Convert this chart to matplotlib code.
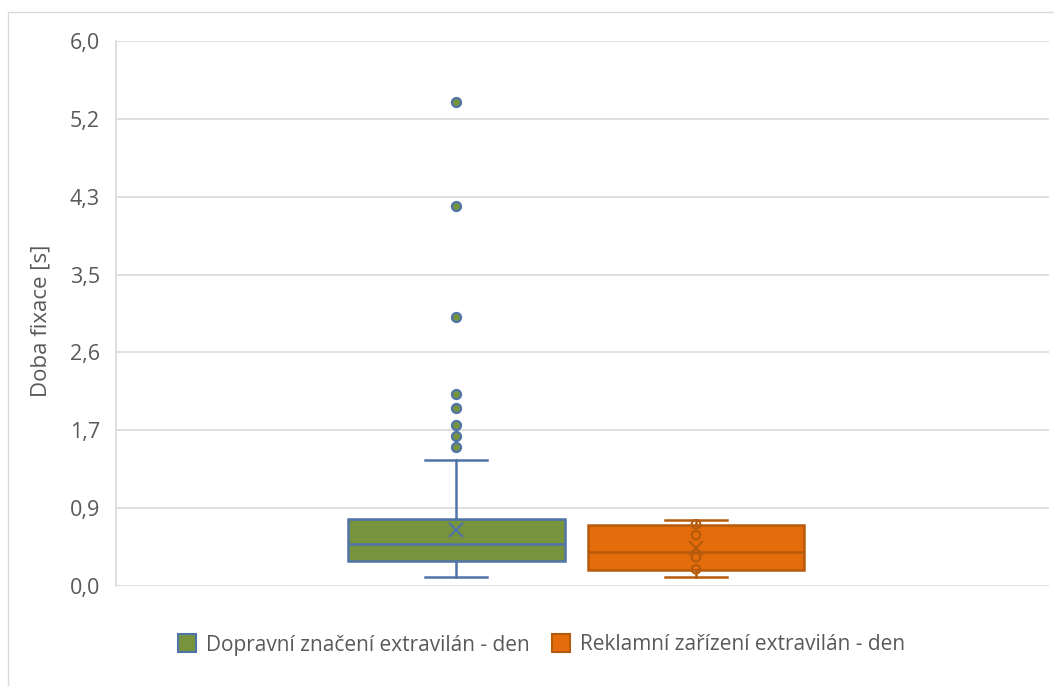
import numpy as np
import matplotlib
matplotlib.use("Agg")
import matplotlib.pyplot as plt
from matplotlib.patches import Rectangle
from matplotlib.lines import Line2D

# series names
series = ["Dopravní značení extravilán - den", "Reklamní zařízení extravilán - den"]

# box statistics [s]
q1 = [0.274, 0.177]
medians = [0.462, 0.374]
q3 = [0.743, 0.676]
whisker_low = [0.103, 0.100]
whisker_high = [1.393, 0.728]
means = [0.621, 0.418]
outliers_green = [5.368, 4.215, 2.985, 2.125, 1.970, 1.785, 1.663, 1.544]
inner_orange = [0.684, 0.565, 0.318, 0.185]

y_max = 6.041
y_ticks = np.arange(8) * y_max / 7

fills = ["#77933C", "#E46C0A"]
edges = ["#4F74A8", "#B65A0C"]
text_col = "#595959"
grid_col = "#D9D9D9"
font = "Open Sans"

plt.rcParams["font.family"] = [font, "DejaVu Sans"]

fig = plt.figure(figsize=(10.54, 6.86), dpi=100)
ax = fig.add_axes([116 / 1054, 100 / 686, (1049 - 116) / 1054, 545 / 686])

# chart border
fig.patches.append(Rectangle((8 / 1054, -0.1), 1.2, 0.1 + 1 - 12 / 686,
                             transform=fig.transFigure, fill=False,
                             edgecolor=grid_col, linewidth=1.0))

positions = [0, 1]
for i in range(2):
    stats = [{
        "med": medians[i], "q1": q1[i], "q3": q3[i],
        "whislo": whisker_low[i], "whishi": whisker_high[i],
        "mean": means[i],
        "fliers": outliers_green if i == 0 else [],
        "label": series[i],
    }]
    ax.bxp(stats, positions=[positions[i]], widths=0.904, patch_artist=True,
           showmeans=True, showfliers=True,
           boxprops=dict(facecolor=fills[i], edgecolor=edges[i], linewidth=1.8),
           medianprops=dict(color=edges[i], linewidth=1.8),
           whiskerprops=dict(color=edges[i], linewidth=1.8),
           capprops=dict(color=edges[i], linewidth=1.8),
           capwidths=0.26,
           meanprops=dict(marker="x", markeredgecolor=edges[i], markersize=10,
                          markeredgewidth=1.6, linestyle="none"),
           flierprops=dict(marker="o", markerfacecolor=fills[i],
                           markeredgecolor=edges[i], markersize=6.5,
                           markeredgewidth=1.6),
           zorder=3)

# inner points of the orange series
ax.scatter([positions[1]] * len(inner_orange), inner_orange, s=38,
           facecolors="none", edgecolors=edges[1], linewidths=1.5, zorder=4)

ax.set_xlim(-1.417, 2.471)
ax.set_ylim(0, y_max)
ax.set_yticks(y_ticks)
ax.set_yticklabels([f"{v:.1f}".replace(".", ",") for v in y_ticks],
                   fontsize=15.5, color=text_col)
ax.set_xticks([])
ax.tick_params(axis="y", length=0, pad=11.5)
ax.grid(axis="y", color=grid_col, linewidth=1.2)
ax.set_axisbelow(True)
for s in ["top", "right", "bottom"]:
    ax.spines[s].set_visible(False)
ax.spines["left"].set_color(grid_col)
ax.spines["left"].set_linewidth(1.2)
ax.set_ylabel("Doba fixace [s]", fontsize=16, color=text_col, va="center")
ax.yaxis.set_label_coords((41.5 - 116) / 933, (586 - 321) / 545)

handles = [Line2D([], [], marker="s", linestyle="none", markersize=13,
                  markerfacecolor=fills[i], markeredgecolor=edges[i],
                  markeredgewidth=1.5) for i in range(2)]
fig.legend(handles, series, loc="center", bbox_to_anchor=(541 / 1054, 1 - 645 / 686),
           ncol=2, frameon=False, fontsize=15, labelcolor=text_col,
           handletextpad=0.4, columnspacing=1.0, handlelength=1.0)

fig.savefig("out.png", dpi=100)
